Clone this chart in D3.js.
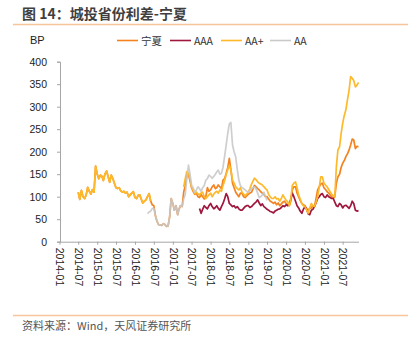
<!DOCTYPE html>
<html><head><meta charset="utf-8">
<script src="https://cdn.jsdelivr.net/npm/d3@7"></script>
<style>
html,body{margin:0;padding:0;background:#fff;}
svg{display:block;}
</style></head>
<body>
<script>
// ---- data (half-month observations; two values per month) ----
const seriesNames = ["宁夏", "AAA", "AA+", "AA"];
const ningxiaStart = "2014-07";
const ningxia = [
  110,94, 114,100, 96,104, 121,112, 106,116, 110,168,            // 2014-07..12
  150,140, 148,145, 136,150, 157,145, 132,148, 140,130,          // 2015-01..06
  120,118, 120,113, 110,112, 108,110, 100,104, 108,111,          // 2015-07..12
  98,96, 103,104, 95,86, 90,93, 100,107, 90,82,                  // 2016-01..06
  80,58, 45,38, 37,36, 40,38, 34,35, 55,96,                      // 2016-07..12
  85,70, 80,60, 72,80, 78,110, 125,145, 150,135,                 // 2017-01..06
  120,112, 105,108, 100,98, 105,100, 95,100, 120,112,            // 2017-07..12
  115,122, 126,118, 120,126, 122,118, 137,140, 152,165,          // 2018-01..06
  185,160, 130,120, 110,105, 100,108, 108,100, 98,102,           // 2018-07..12
  105,108, 110,118, 125,122, 118,115, 111,108, 105,100,          // 2019-01..06
  100,95, 90,88, 85,88, 82,86, 80,84, 88,90,                     // 2019-07..12
  85,82, 80,90, 115,122, 122,108, 100,92, 85,82,                 // 2020-01..06
  80,72, 70,74, 75,80, 78,95, 115,122, 128,130,                  // 2020-07..12
  120,116, 111,108, 104,100, 96,100, 130,144, 150,165,           // 2021-01..06
  174,180, 189,195, 204,215, 228,226, 207,212, 211               // 2021-07..12
];
const aaaStart = "2017-09";
const aaa = [
  null,74, 63,72, 80,76, 73,80,                                  // 2017-09..12
  85,78, 73,76, 80,74, 70,78, 85,95, 107,100,                    // 2018-01..06
  85,82, 78,80, 75,78, 73,70, 70,74, 78,80,                      // 2018-07..12
  80,76, 78,82, 85,88, 93,86, 80,84, 78,75,                      // 2019-01..06
  72,70, 67,66, 64,68, 70,72, 73,76, 80,78,                      // 2019-07..12
  82,80, 85,95, 108,100, 90,80, 75,68, 63,72,                    // 2020-01..06
  78,74, 62,60, 70,72, 78,86, 96,100, 105,107,                   // 2020-07..12
  100,98, 104,100, 98,96, 96,88, 80,78, 85,82,                   // 2021-01..06
  75,80, 81,78, 74,80, 90,85, 70,68, 69                          // 2021-07..12
];
const aaPlusStart = "2014-07";
const aaPlus = [
  110,94, 114,100, 96,104, 121,112, 106,116, 110,168,            // 2014-07..12
  150,140, 148,145, 136,150, 157,145, 132,148, 140,130,          // 2015-01..06
  120,118, 120,113, 110,112, 108,110, 100,104, 108,111,          // 2015-07..12
  98,96, 103,104, 95,86, 90,93, 100,107, 90,null,                // 2016-01..06
  null,null, null,null, null,null, null,null, null,null, null,null, // 2016-07..12
  null,null, null,null, null,null, null,122, 140,156, 152,140,   // 2017-01..06
  122,115, 107,110, 106,104, 108,110, 100,96, 100,104,           // 2017-07..12
  108,100, 106,110, 112,108, 115,112, 125,135, 150,160,          // 2018-01..06
  170,160, 137,130, 122,118, 115,120, 110,106, 102,106,          // 2018-07..12
  110,118, 128,135, 141,138, 133,130, 128,126, 122,118,          // 2019-01..06
  115,105, 100,96, 96,100, 95,96, 90,96, 104,98,                 // 2019-07..12
  92,89, 80,95, 125,130, 133,120, 104,95, 85,80,                 // 2020-01..06
  78,72, 63,75, 85,80, 78,88, 100,120, 144,144,                  // 2020-07..12
  130,126, 122,116, 111,106, 102,100, 167,204, 211,240,          // 2021-01..06
  263,280, 293,315, 337,367, 363,358, 344,348, 354               // 2021-07..12
];
const aaStart = "2016-05";
const aa = [
  62,66, 68,74,                                                  // 2016-05..06
  74,58, 45,38, 37,36, 40,38, 34,35, 55,96,                      // 2016-07..12
  85,70, 80,60, 72,80, 78,95, 105,140, 170,150,                  // 2017-01..06
  125,120, 110,115, 122,118, 112,120, 125,137, 140,148,          // 2017-07..12
  145,141, 145,150, 155,159, 150,152, 165,189, 215,241,          // 2018-01..06
  262,265, 215,200, 188,160, 137,125, 120,118, 115,112,          // 2018-07..12
  110,114, 118,120, 122,118, 108,98, 100,104, 110,100,           // 2019-01..06
  92                                                             // 2019-07
];
const yTicks = [0,50,100,150,200,250,300,350,400];
const xTickLabels = ["2014-01","2014-07","2015-01","2015-07","2016-01","2016-07","2017-01","2017-07",
  "2018-01","2018-07","2019-01","2019-07","2020-01","2020-07","2021-01","2021-07"];
const colors = ["#F3821F", "#A0173D", "#FDB92A", "#C9C9C9"];

// ---- build ----
const W = 408, H = 341;
const parseM = d3.timeParse("%Y-%m");
const toData = (start, vals) => vals.map((v, k) => ({
  t: d3.timeDay.offset(d3.timeMonth.offset(parseM(start), Math.floor(k / 2)), k % 2 ? 15 : 0), v }));
const series = [
  toData(ningxiaStart, ningxia), toData(aaaStart, aaa),
  toData(aaPlusStart, aaPlus), toData(aaStart, aa)
];

const svg = d3.select("body").append("svg").attr("width", W).attr("height", H);
const latin = "'Liberation Sans', Arial, 'Noto Sans CJK SC', sans-serif";
const cjk = "'Noto Sans CJK SC', sans-serif";

// title
svg.append("text").attr("x", 22).attr("y", 19)
  .attr("font-family", cjk).attr("font-size", 14).attr("font-weight", "bold")
  .attr("fill", "#3f3f3f").text("图 14：城投省份利差-宁夏");
svg.append("line").attr("x1", 13).attr("x2", 408).attr("y1", 24.5).attr("y2", 24.5)
  .attr("stroke", "#F8C49A").attr("stroke-width", 1.5);

const x = d3.scaleTime().domain([parseM("2014-01"), parseM("2021-12")]).range([59.5, 358.5]);
const y = d3.scaleLinear().domain([0, 400]).range([241.7, 61.7]);

// y axis
const yAxis = svg.append("g").attr("transform", "translate(60,0)")
  .call(d3.axisLeft(y).tickValues(yTicks).tickSize(3).tickPadding(10));
yAxis.select(".domain").attr("stroke", "#a6a6a6");
yAxis.selectAll(".tick line").attr("stroke", "#a6a6a6");
yAxis.selectAll("text").attr("font-family", latin).attr("font-size", 10.5).attr("fill", "#222");

// x axis
const xAxis = svg.append("g").attr("transform", "translate(0,241.7)")
  .call(d3.axisBottom(x).tickValues(xTickLabels.map(parseM)).tickSize(3).tickSizeOuter(0)
    .tickFormat(d3.timeFormat("%Y-%m")));
xAxis.select(".domain").attr("stroke", "#a6a6a6");
xAxis.selectAll(".tick line").attr("stroke", "#a6a6a6");
xAxis.selectAll("text")
  .attr("font-family", latin).attr("font-size", 10.5).attr("fill", "#222")
  .attr("text-anchor", "start").attr("transform", "rotate(90)")
  .attr("x", 6).attr("y", 0).attr("dy", "0.35em");

// lines
const line = d3.line().defined(d => d.v != null).x(d => x(d.t)).y(d => y(d.v));
series.forEach((data, i) => {
  svg.append("path").datum(data).attr("d", line)
    .attr("fill", "none").attr("stroke", colors[i]).attr("stroke-width", 1.7)
    .attr("stroke-linejoin", "round")
    .attr("opacity", i === 3 ? 0.9 : 1);
});

// BP label
svg.append("text").attr("x", 30).attr("y", 44).attr("font-family", latin).attr("font-size", 11)
  .attr("fill", "#222").text("BP");

// legend
const legX = [117, 170, 221, 270];
seriesNames.forEach((n, i) => {
  svg.append("line").attr("x1", legX[i]).attr("x2", legX[i] + 21).attr("y1", 40.5).attr("y2", 40.5)
    .attr("stroke", colors[i]).attr("stroke-width", 1.6);
  svg.append("text").attr("x", legX[i] + 24).attr("y", 44.5)
    .attr("font-family", cjk).attr("font-size", 10.5).attr("fill", "#333").text(n);
});

// footer
svg.append("line").attr("x1", 13).attr("x2", 408).attr("y1", 315.5).attr("y2", 315.5)
  .attr("stroke", "#F8C49A").attr("stroke-width", 1.5);
svg.append("text").attr("x", 22).attr("y", 330)
  .attr("font-family", cjk).attr("font-size", 11)
  .attr("fill", "#555").text("资料来源：Wind，天风证券研究所");
</script>
</body></html>
